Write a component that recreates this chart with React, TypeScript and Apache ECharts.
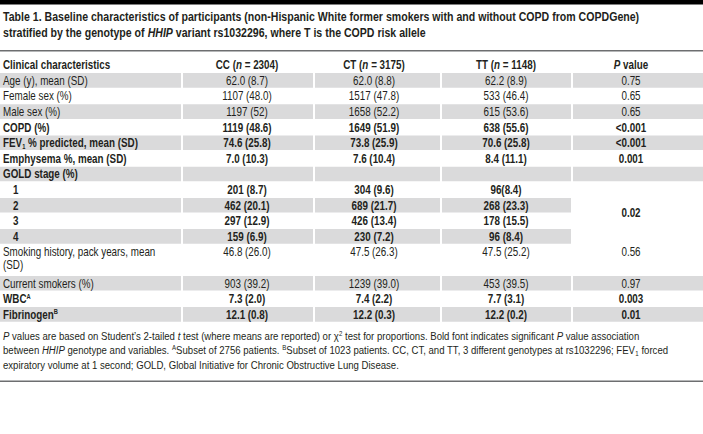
import React, { useEffect, useRef } from 'react';
import * as echarts from 'echarts';

// ---------- content ----------
const titleLines = [
  'Table 1. Baseline characteristics of participants (non-Hispanic White former smokers with and without COPD from COPDGene)',
  'stratified by the genotype of *HHIP* variant rs1032296, where T is the COPD risk allele',
];
const columnHeaders = ['Clinical characteristics', 'CC (*n* = 2304)', 'CT (*n* = 3175)', 'TT (*n* = 1148)', '*P* value'];
const rowLabels = [
  'Age (y), mean (SD)',
  'Female sex (%)',
  'Male sex (%)',
  'COPD (%)',
  'FEV_1 % predicted, mean (SD)',
  'Emphysema %, mean (SD)',
  'GOLD stage (%)',
  '1',
  '2',
  '3',
  '4',
  'Smoking history, pack years, mean\n(SD)',
  'Current smokers (%)',
  'WBC^A',
  'Fibrinogen^B',
];
const ccValues = ['62.0 (8.7)', '1107 (48.0)', '1197 (52)', '1119 (48.6)', '74.6 (25.8)', '7.0 (10.3)', '', '201 (8.7)', '462 (20.1)', '297 (12.9)', '159 (6.9)', '46.8 (26.0)', '903 (39.2)', '7.3 (2.0)', '12.1 (0.8)'];
const ctValues = ['62.0 (8.8)', '1517 (47.8)', '1658 (52.2)', '1649 (51.9)', '73.8 (25.9)', '7.6 (10.4)', '', '304 (9.6)', '689 (21.7)', '426 (13.4)', '230 (7.2)', '47.5 (26.3)', '1239 (39.0)', '7.4 (2.2)', '12.2 (0.3)'];
const ttValues = ['62.2 (8.9)', '533 (46.4)', '615 (53.6)', '638 (55.6)', '70.6 (25.8)', '8.4 (11.1)', '', '96(8.4)', '268 (23.3)', '178 (15.5)', '96 (8.4)', '47.5 (25.2)', '453 (39.5)', '7.7 (3.1)', '12.2 (0.2)'];
const pValues = ['0.75', '0.65', '0.65', '<0.001', '<0.001', '0.001', '', '0.02', '', '', '', '0.56', '0.97', '0.003', '0.01'];
const boldRows = [false, false, false, true, true, true, true, true, true, true, true, false, false, true, true];
const indentedRows = [7, 8, 9, 10];
const pMergeStart = 7;
const pMergeCount = 4;
const footnoteLines = [
  '*P* values are based on Student\u2019s 2-tailed *t* test (where means are reported) or \u03c7^2 test for proportions. Bold font indicates significant *P* value association',
  'between *HHIP* genotype and variables. ^ASubset of 2756 patients. ^BSubset of 1023 patients. CC, CT, and TT, 3 different genotypes at rs1032296; FEV_1 forced',
  'expiratory volume at 1 second; GOLD, Global Initiative for Chronic Obstructive Lung Disease.',
];

// ---------- layout ----------
const W = 703;
const H = 434;
const FAMILY = '"Liberation Sans"';
const FONT = '"Liberation Sans", Arial, sans-serif';
const TEXT = '#231f20';
const BAND = '#dadadb';
const RULE = '#6d6e70';
const colX = [0, 183, 315, 442, 573];
const colW = [181, 130, 125, 129, 130];
const colCenter = [3, 247, 374, 506, 631];
const headerTop = 57;
const pitch = 15.6;
const tableFont = 12;
const tableScale = 0.82;
const lineH = 13;
const titleFont = 13;
const titleWidth = 637;
const noteFont = 11;
const noteWidth = 638;

function plain(s: string): string {
  return s.replace(/\*/g, '').replace(/[\^_]/g, '');
}

function measure(s: string, size: number, bold: boolean): number {
  const canvas = document.createElement('canvas');
  const ctx = canvas.getContext('2d');
  if (!ctx) return 1;
  ctx.font = `${bold ? 'bold ' : ''}${size}px ${FONT}`;
  return ctx.measureText(plain(s)).width;
}

function toRich(s: string): string {
  let out = '';
  let buf = '';
  let italic = false;
  const flush = () => {
    if (buf) {
      out += `{${italic ? 'i' : 'n'}|${buf}}`;
      buf = '';
    }
  };
  for (let k = 0; k < s.length; k++) {
    const c = s[k];
    if (c === '*') {
      flush();
      italic = !italic;
    } else if (c === '^') {
      flush();
      out += `{sup|${s[++k]}}`;
    } else if (c === '_') {
      flush();
      out += `{sub|${s[++k]}}`;
    } else if (c === '\n') {
      flush();
      out += '\n';
    } else buf += c;
  }
  flush();
  return out;
}

function makeRich(size: number, bold: boolean, lh: number) {
  const base = { fontSize: size, fontFamily: FONT, fontWeight: bold ? 'bold' : 'normal', fill: TEXT, textFill: TEXT };
  return {
    n: { ...base, lineHeight: lh },
    i: { ...base, fontStyle: 'italic', lineHeight: lh },
    sup: { ...base, fontSize: Math.round(size * 0.62), verticalAlign: 'top', lineHeight: 10 },
    sub: { ...base, fontSize: Math.round(size * 0.62), verticalAlign: 'bottom', lineHeight: 5 },
  };
}

function textEl(s: string, x: number, y: number, size: number, bold: boolean, align: string, vAlign: string, lh: number, sx: number) {
  return {
    type: 'text',
    x,
    y,
    scaleX: sx,
    silent: true,
    style: {
      text: toRich(s),
      rich: makeRich(size, bold, lh),
      textAlign: align,
      textVerticalAlign: vAlign,
      fontSize: size,
      fontFamily: FONT,
      fontWeight: bold ? 'bold' : 'normal',
      fill: TEXT,
    },
  };
}

function buildElements() {
  const els: any[] = [];
  const titleScale = Math.min(1, titleWidth / measure(titleLines[0], titleFont, true));
  const noteScale = Math.min(1, noteWidth / measure(footnoteLines[0], noteFont, false));

  els.push({ type: 'rect', silent: true, shape: { x: 0, y: 0, width: W, height: 4.5 }, style: { fill: '#000' } });
  titleLines.forEach((t, k) => els.push(textEl(t, 3, 17 + k * 15.5, titleFont, true, 'left', 'middle', 15, titleScale)));
  els.push({ type: 'rect', silent: true, shape: { x: 0, y: 50, width: W, height: 1.5 }, style: { fill: RULE } });

  // header
  const headerMid = headerTop + pitch / 2;
  columnHeaders.forEach((h, c) =>
    els.push(textEl(h, colCenter[c], headerMid, tableFont, true, c === 0 ? 'left' : 'center', 'middle', lineH, tableScale)),
  );

  // rows
  let unit = 1;
  rowLabels.forEach((label, r) => {
    const units = label.includes('\n') ? 2 : 1;
    const top = headerTop + unit * pitch;
    const height = units * pitch;
    const gray = r % 2 === 0;
    if (gray) {
      for (let c = 0; c < 5; c++) {
        const merged = c === 4 && r >= pMergeStart && r < pMergeStart + pMergeCount;
        if (merged) continue;
        els.push({ type: 'rect', silent: true, shape: { x: colX[c], y: top + 0.5, width: colW[c], height: height - 1 }, style: { fill: BAND } });
      }
    }
    const bold = boldRows[r];
    const firstMid = top + pitch / 2;
    const lx = indentedRows.includes(r) ? 13 : colCenter[0];
    els.push(textEl(label, lx, firstMid - lineH / 2, tableFont, bold, 'left', 'top', lineH, tableScale));
    const vals = [ccValues[r], ctValues[r], ttValues[r]];
    vals.forEach((v, k) => {
      if (v) els.push(textEl(v, colCenter[k + 1], firstMid, tableFont, bold, 'center', 'middle', lineH, tableScale));
    });
    if (pValues[r]) {
      let py = firstMid;
      if (r === pMergeStart) py = top + (pMergeCount * pitch) / 2;
      els.push(textEl(pValues[r], colCenter[4], py, tableFont, bold, 'center', 'middle', lineH, tableScale));
    }
    unit += units;
  });

  // footnotes
  footnoteLines.forEach((f, k) => els.push(textEl(f, 3, 336 + k * 14.5, noteFont, false, 'left', 'middle', 13, noteScale)));
  els.push({ type: 'rect', silent: true, shape: { x: 0, y: 380.5, width: W, height: 1.5 }, style: { fill: RULE } });
  return els;
}

export default function App() {
  const ref = useRef<HTMLDivElement>(null);
  useEffect(() => {
    document.body.style.margin = '0';
    if (!ref.current) return;
    const chart = echarts.init(ref.current, undefined, { renderer: 'svg' });
    chart.setOption({
      animation: false,
      backgroundColor: '#ffffff',
      graphic: { elements: buildElements() },
    });
    return () => chart.dispose();
  }, []);
  return <div ref={ref} style={{ width: W, height: H }} />;
}
